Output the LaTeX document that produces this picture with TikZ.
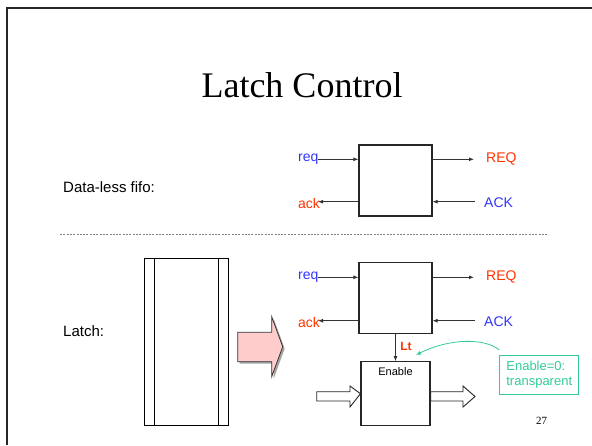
\documentclass[tikz,border=0pt]{standalone}
\usepackage{fontspec}
\setmainfont{Liberation Sans}
\newfontfamily\titlefont{Liberation Serif}
\usetikzlibrary{arrows.meta}

\definecolor{reqblue}{RGB}{51,51,255}
\definecolor{ackred}{RGB}{255,51,0}
\definecolor{noteteal}{RGB}{51,204,153}
\definecolor{pinkfill}{RGB}{255,204,204}

\begin{document}
\begin{tikzpicture}[x=1pt, y=-1pt,
  sig/.style={draw=black!80, line width=0.9pt, -{Latex[length=5pt,width=4pt]}},
  blk/.style={draw=black!85, line width=1.1pt, fill=white, minimum width=73pt, minimum height=71pt, inner sep=0pt},
  lbl/.style={font=\fontsize{14}{16}\selectfont, inner sep=0pt},
  side/.style={font=\fontsize{15}{17}\selectfont, inner sep=0pt, anchor=base west},
  hollow/.style={draw=black!85, line width=0.9pt, fill=white}]
  \useasboundingbox (0,0) rectangle (592,445);

  % Slide frame (left and top edges only)
  \draw[line width=2.5pt, black!85] (7,445) -- (7,8) -- (592,8);

  % Title
  \node[font=\titlefont\fontsize{36}{40}\selectfont, anchor=base, inner sep=0pt] (title) at (302,97.5) {Latch Control};

  % Side labels
  \node[side] (fifolbl) at (63,192.5) {Data-less fifo:};
  \node[side] (latchlbl) at (63,336.5) {Latch:};

  % Separator
  \draw[black!50, line width=1pt, dash pattern=on 2pt off 1.3pt] (60,234) -- (548,234);

  % Data-less fifo
  \node[blk] (fifo) at (395.5,180.5) {};
  \node[lbl, text=reqblue, anchor=west] (req1) at (298,159.3) {req};
  \node[lbl, text=ackred, anchor=west] (ack1) at (298,203) {ack};
  \node[lbl, text=ackred, anchor=west] (REQ1) at (486,159.3) {REQ};
  \node[lbl, text=reqblue, anchor=west] (ACK1) at (484,203) {ACK};
  \coordinate (r1in) at (318,159.3);
  \coordinate (r1out) at (474,159.3);
  \coordinate (a1out) at (318,201.7);
  \coordinate (a1in) at (475,201.7);
  \draw[sig] (r1in) -- (r1in -| fifo.west);
  \draw[sig] (r1out -| fifo.east) -- (r1out);
  \draw[sig] (a1out -| fifo.west) -- (a1out);
  \draw[sig] (a1in) -- (a1in -| fifo.east);

  % Latch control
  \node[blk] (ctrl) at (395.5,298.4) {};
  \node[lbl, text=reqblue, anchor=west] (req2) at (298,277.3) {req};
  \node[lbl, text=ackred, anchor=west] (ack2) at (298,322) {ack};
  \node[lbl, text=ackred, anchor=west] (REQ2) at (486,277.3) {REQ};
  \node[lbl, text=reqblue, anchor=west] (ACK2) at (484,322) {ACK};
  \coordinate (r2in) at (318,277.3);
  \coordinate (r2out) at (474,277.3);
  \coordinate (a2out) at (318,320.7);
  \coordinate (a2in) at (475,320.7);
  \draw[sig] (r2in) -- (r2in -| ctrl.west);
  \draw[sig] (r2out -| ctrl.east) -- (r2out);
  \draw[sig] (a2out -| ctrl.west) -- (a2out);
  \draw[sig] (a2in) -- (a2in -| ctrl.east);

  % Latch with Enable input
  \node[blk, minimum width=69pt, minimum height=64pt] (enable) at (395.5,393.7) {};
  \node[font=\fontsize{11}{13}\selectfont, inner sep=0pt] (enlbl) at (395.5,372) {Enable};
  \draw[sig] (ctrl.south) -- (enable.north);
  \node[font=\bfseries\fontsize{12}{14}\selectfont, text=ackred, inner sep=0pt] (lt) at (406,346.7) {Lt};

  % Data in / out
  \draw[hollow] (316.7,391.7) -- (350,391.7) -- (350,386) -- (enable.west) -- (350,407) -- (350,401) -- (316.7,401) -- cycle;
  \draw[hollow] (enable.east |- 0,391.7) -- (463,391.7) -- (463,386) -- (475,396.5) -- (463,407) -- (463,401) -- (enable.east |- 0,401) -- cycle;

  % Note
  \node[draw=noteteal, line width=0.9pt, fill=white, text=noteteal, align=left, inner sep=2pt,
        font=\fontsize{13}{15}\selectfont, minimum width=79pt, minimum height=39pt, anchor=north west] (note) at (499.3,355) {Enable=0:\\transparent};
  \coordinate (notetip) at (416,355);
  \draw[noteteal, line width=0.8pt, -{Latex[length=5pt,width=4pt]}] ([yshift=5pt]note.north west) .. controls (485,338) and (450,338) .. (notetip);

  % Latch as drawn register
  \draw[line width=1pt] (144.3,258.3) rectangle (228.3,425);
  \draw[line width=1pt] (154.3,258.3) -- (154.3,425);
  \draw[line width=1pt] (218.3,258.3) -- (218.3,425);

  % Big pink arrow
  \fill[black!35] (239.7,334.3) -- (273.7,334.3) -- (273.7,318.7) -- (284.7,348.7) -- (273.7,378.7) -- (273.7,363.7) -- (239.7,363.7) -- cycle;
  \draw[fill=pinkfill, draw=black!80, line width=0.8pt] (237.7,332.3) -- (271.7,332.3) -- (271.7,316.7) -- (282.7,346.7) -- (271.7,376.7) -- (271.7,361.7) -- (237.7,361.7) -- cycle;

  % Page number
  \node[font=\titlefont\fontsize{11}{13}\selectfont, inner sep=0pt] (pageno) at (541.7,420.7) {27};
\end{tikzpicture}
\end{document}
